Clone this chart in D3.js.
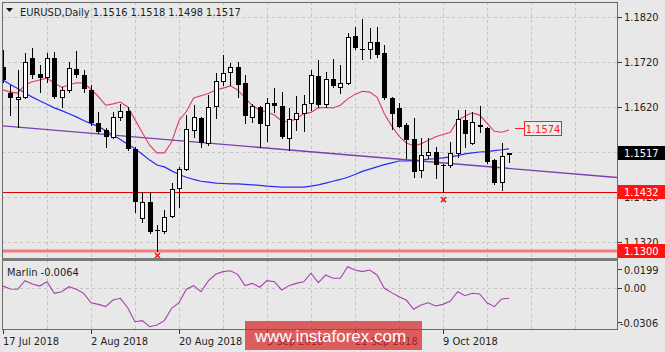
<!DOCTYPE html>
<html lang="en">
<head>
<meta charset="utf-8">
<title>EURUSD Daily</title>
<script src="https://d3js.org/d3.v7.min.js"></script>
<style>
  body { margin: 0; background: #e8e8e8; }
  svg { display: block; }
  text { font-family: "DejaVu Sans Condensed", "DejaVu Sans", sans-serif; font-size: 11px; fill: #1e1e1e; }
</style>
</head>
<body>
<svg width="665" height="352"></svg>
<script>
// bar dates (trading days)
const dates = [
  "2018-07-17","2018-07-18","2018-07-19","2018-07-20","2018-07-23","2018-07-24","2018-07-25","2018-07-26","2018-07-27","2018-07-30","2018-07-31",
  "2018-08-01","2018-08-02","2018-08-03","2018-08-06","2018-08-07","2018-08-08","2018-08-09","2018-08-10","2018-08-13","2018-08-14","2018-08-15",
  "2018-08-16","2018-08-17","2018-08-20","2018-08-21","2018-08-22","2018-08-23","2018-08-24","2018-08-27","2018-08-28","2018-08-29","2018-08-30","2018-08-31",
  "2018-09-03","2018-09-04","2018-09-05","2018-09-06","2018-09-07","2018-09-10","2018-09-11","2018-09-12","2018-09-13","2018-09-14","2018-09-17",
  "2018-09-18","2018-09-19","2018-09-20","2018-09-21","2018-09-24","2018-09-25","2018-09-26","2018-09-27","2018-09-28",
  "2018-10-01","2018-10-02","2018-10-03","2018-10-04","2018-10-05","2018-10-08","2018-10-09","2018-10-10","2018-10-11","2018-10-12",
  "2018-10-15","2018-10-16","2018-10-17","2018-10-18","2018-10-19","2018-10-22"
];

const open = [
  1.1709,1.1651,1.1638,1.1642,1.1729,1.1693,1.1687,1.1729,1.1642,1.1658,1.1704,1.1691,1.1658,1.1584,1.1569,1.1553,1.1598,1.1611,
  1.1527,1.1373,1.1409,1.1346,1.1345,1.1378,1.1440,1.1482,1.1569,1.1596,1.1540,1.1622,1.1678,1.1698,1.1709,1.1673,1.1598,1.1620,
  1.1580,1.1629,1.1622,1.1551,1.1593,1.1607,1.1629,1.1689,1.1627,1.1682,1.1664,1.1673,1.1778,1.1748,1.1749,1.1764,1.1740,1.1640,
  1.1618,1.1580,1.1549,1.1480,1.1513,1.1520,1.1491,1.1491,1.1518,1.1591,1.1540,1.1580,1.1573,1.1502,1.1453,1.1516
];
const high = [
  1.1747,1.1669,1.1702,1.1740,1.1751,1.1713,1.1740,1.1742,1.1664,1.1720,1.1744,1.1702,1.1669,1.1609,1.1573,1.1609,1.1627,1.1620,
  1.1531,1.1431,1.1431,1.1358,1.1391,1.1451,1.1487,1.1602,1.1624,1.1598,1.1647,1.1696,1.1736,1.1718,1.1720,1.1691,1.1627,1.1622,
  1.1640,1.1662,1.1653,1.1618,1.1644,1.1647,1.1702,1.1724,1.1698,1.1727,1.1713,1.1784,1.1798,1.1816,1.1796,1.1798,1.1758,1.1642,
  1.1629,1.1584,1.1596,1.1551,1.1551,1.1531,1.1493,1.1542,1.1613,1.1613,1.1609,1.1622,1.1576,1.1504,1.1540,1.1518
];
const low = [
  1.1676,1.1602,1.1576,1.1640,1.1684,1.1653,1.1676,1.1640,1.1620,1.1653,1.1687,1.1653,1.1580,1.1562,1.1531,1.1551,1.1591,1.1524,
  1.1387,1.1364,1.1340,1.1300,1.1340,1.1376,1.1398,1.1480,1.1553,1.1531,1.1536,1.1596,1.1669,1.1669,1.1642,1.1584,1.1587,1.1531,
  1.1544,1.1609,1.1551,1.1524,1.1569,1.1567,1.1613,1.1620,1.1620,1.1664,1.1651,1.1671,1.1749,1.1727,1.1729,1.1731,1.1638,1.1571,
  1.1576,1.1507,1.1464,1.1464,1.1507,1.1462,1.1432,1.1487,1.1509,1.1531,1.1538,1.1564,1.1496,1.1449,1.1436,1.1498
];
const close = [
  1.1680,1.1640,1.1642,1.1720,1.1691,1.1684,1.1729,1.1642,1.1658,1.1707,1.1691,1.1660,1.1584,1.1564,1.1553,1.1598,1.1611,1.1527,
  1.1409,1.1409,1.1342,1.1345,1.1376,1.1438,1.1482,1.1571,1.1598,1.1540,1.1620,1.1678,1.1696,1.1709,1.1669,1.1600,1.1622,1.1582,
  1.1629,1.1622,1.1553,1.1593,1.1607,1.1627,1.1691,1.1624,1.1682,1.1667,1.1673,1.1776,1.1751,1.1747,1.1764,1.1736,1.1640,1.1604,
  1.1576,1.1547,1.1476,1.1513,1.1520,1.1491,1.1490,1.1518,1.1593,1.1560,1.1587,1.1576,1.1498,1.1451,1.1511,1.1517
];

// moving averages
const maFast = [
  1.1658,1.1653,1.1651,1.1669,1.1676,1.1680,1.1684,1.1673,1.1664,1.1669,1.1674,1.1673,1.1660,1.1643,1.1624,1.1627,1.1631,1.1620,
  1.1592,1.1563,1.1535,1.1518,1.1518,1.1542,1.1590,1.1610,1.1640,1.1645,1.1650,1.1658,1.1662,1.1667,1.1658,1.1640,1.1623,1.1613,
  1.1609,1.1602,1.1589,1.1587,1.1594,1.1605,1.1608,1.1618,1.1619,1.1618,1.1624,1.1638,1.1648,1.1655,1.1653,1.1642,1.1605,1.1578,
  1.1555,1.1540,1.1534,1.1538,1.1546,1.1554,1.1559,1.1564,1.1590,1.1600,1.1607,1.1602,1.1584,1.1566,1.1564,1.1569
];
const maSlow = [
  1.1680,1.1670,1.1661,1.1651,1.1642,1.1634,1.1626,1.1618,1.1612,1.1605,1.1598,1.1590,1.1583,1.1577,1.1567,1.1558,1.1548,1.1537,
  1.1527,1.1515,1.1502,1.1491,1.1487,1.1478,1.1470,1.1464,1.1459,1.1455,1.1453,1.1451,1.1450,1.1449,1.1449,1.1448,1.1447,1.1446,
  1.1444,1.1443,1.1442,1.1442,1.1442,1.1442,1.1444,1.1447,1.1451,1.1455,1.1459,1.1464,1.1470,1.1477,1.1482,1.1487,1.1492,1.1496,
  1.1500,1.1500,1.1501,1.1502,1.1504,1.1505,1.1507,1.1509,1.1512,1.1516,1.1518,1.1520,1.1521,1.1523,1.1525,1.1527
];
const marlin = [
  0.0013,-0.0009,-0.0011,0.0053,0.0028,0.0013,0.0045,-0.0041,-0.0029,0.0008,-0.0011,-0.0041,-0.0111,-0.0123,-0.0140,-0.0091,-0.0078,-0.0148,
  -0.0252,-0.0244,-0.0289,-0.0276,-0.0244,-0.0152,-0.0111,-0.0011,0.0016,-0.0029,0.0051,0.0100,0.0120,0.0127,0.0100,0.0016,0.0033,0.0004,
  0.0053,0.0045,-0.0016,0.0016,0.0033,0.0045,0.0108,0.0038,0.0095,0.0071,0.0071,0.0157,0.0132,0.0120,0.0132,0.0095,-0.0004,-0.0036,
  -0.0066,-0.0091,-0.0160,-0.0128,-0.0111,-0.0135,-0.0123,-0.0098,-0.0029,-0.0059,-0.0041,-0.0046,-0.0111,-0.0140,-0.0083,-0.0078
];

const trendLine = [{i: 0, p: 1.1578}, {i: 84, p: 1.1463}];
const levels = [1.1432, 1.1300];
const fractalLows = [21, 60];
const priceTicks = [1.1820, 1.1720, 1.1620, 1.1420, 1.1320];
const priceGrid = [1.1820, 1.1720, 1.1620, 1.1520, 1.1420, 1.1320];
const lastPrice = 1.1517;
const boxPrice = 1.1574;
const marlinTicks = [0.0199, 0.00, -0.0306];
const dateTickIdx = [0, 12, 24, 36, 48, 60];

const svg = d3.select("svg");
const L = 2, R = 617, mainT = 2, mainB = 258, indT = 260, indB = 329;

const x = d3.scaleLinear().domain([0, 84]).range([3, 619]);
const y = d3.scaleLinear().domain([1.1320, 1.1820]).range([242, 17]);
const yi = d3.scaleLinear().domain([-0.0306, 0.0199]).range([329, 261]);
const parse = d3.timeParse("%Y-%m-%d");
const fmtDate = d3.timeFormat("%-d %b %Y");

const defs = svg.append("defs");
defs.append("clipPath").attr("id", "mainClip").append("rect")
  .attr("x", L + 1).attr("y", mainT + 1).attr("width", R - L - 1).attr("height", mainB - mainT - 1);
defs.append("clipPath").attr("id", "indClip").append("rect")
  .attr("x", L + 1).attr("y", indT + 1).attr("width", R - L - 1).attr("height", indB - indT - 1);

// grid
const grid = svg.append("g").attr("stroke", "#c4c4c4").attr("stroke-dasharray", "3,3").attr("shape-rendering", "crispEdges");
const vIdx = d3.range(6, 84, 6);
grid.selectAll(".vg").data(vIdx).enter().append("line")
  .attr("x1", d => Math.round(x(d)) + 0.5).attr("x2", d => Math.round(x(d)) + 0.5)
  .attr("y1", mainT).attr("y2", mainB);
grid.selectAll(".vg2").data(vIdx).enter().append("line")
  .attr("x1", d => Math.round(x(d)) + 0.5).attr("x2", d => Math.round(x(d)) + 0.5)
  .attr("y1", indT).attr("y2", indB);
grid.selectAll(".hg").data(priceGrid).enter().append("line")
  .attr("x1", L).attr("x2", R)
  .attr("y1", d => Math.round(y(d)) + 0.5).attr("y2", d => Math.round(y(d)) + 0.5);
grid.append("line").attr("x1", L).attr("x2", R)
  .attr("y1", Math.round(yi(0)) + 0.5).attr("y2", Math.round(yi(0)) + 0.5);

const main = svg.append("g").attr("clip-path", "url(#mainClip)");

// horizontal levels
main.append("line").attr("x1", L).attr("x2", R)
  .attr("y1", Math.round(y(levels[0])) + 0.5).attr("y2", Math.round(y(levels[0])) + 0.5)
  .attr("stroke", "#e00000").attr("stroke-width", 1);
main.append("line").attr("x1", L).attr("x2", R)
  .attr("y1", y(levels[1])).attr("y2", y(levels[1]))
  .attr("stroke", "#f27a7a").attr("stroke-width", 3);

// trend line
main.append("line")
  .attr("x1", x(trendLine[0].i)).attr("y1", y(trendLine[0].p))
  .attr("x2", x(trendLine[1].i)).attr("y2", y(trendLine[1].p))
  .attr("stroke", "#7a3fae").attr("stroke-width", 1.3);

// moving averages
const lineFn = d3.line().x((d, i) => x(i)).y(d => y(d));
main.append("path").datum(maSlow).attr("d", lineFn)
  .attr("fill", "none").attr("stroke", "#2a2af5").attr("stroke-width", 1.2);
main.append("path").datum(maFast).attr("d", lineFn)
  .attr("fill", "none").attr("stroke", "#e23a5e").attr("stroke-width", 1.1);

// candles
const bars = d3.range(open.length);
const cg = main.append("g").attr("shape-rendering", "crispEdges");
cg.selectAll(".wick").data(bars).enter().append("line")
  .attr("x1", i => Math.round(x(i)) + 0.5).attr("x2", i => Math.round(x(i)) + 0.5)
  .attr("y1", i => Math.round(y(high[i]))).attr("y2", i => Math.round(y(low[i])) + 1)
  .attr("stroke", "#000");
cg.selectAll(".body").data(bars).enter().append("rect")
  .attr("x", i => close[i] >= open[i] ? Math.round(x(i)) - 1.5 : Math.round(x(i)) - 2)
  .attr("y", i => {
    const t = Math.round(y(Math.max(open[i], close[i])));
    return close[i] >= open[i] ? t + 0.5 : t;
  })
  .attr("width", i => close[i] >= open[i] ? 4 : 5)
  .attr("height", i => {
    const t = Math.round(y(Math.max(open[i], close[i])));
    const b = Math.round(y(Math.min(open[i], close[i])));
    return close[i] >= open[i] ? Math.max(b - t, 0) : Math.max(b - t, 1);
  })
  .attr("fill", i => close[i] >= open[i] ? "#fff" : "#000")
  .attr("stroke", i => close[i] >= open[i] ? "#000" : "none");

// fractal markers
const fx = main.append("g").attr("stroke", "#f02020").attr("stroke-width", 1.6);
fractalLows.forEach(i => {
  const cx = Math.round(x(i)) + 0.5, cy = Math.min(y(low[i]) + 8, 255.5);
  fx.append("line").attr("x1", cx - 2.5).attr("y1", cy - 2.5).attr("x2", cx + 2.5).attr("y2", cy + 2.5);
  fx.append("line").attr("x1", cx - 2.5).attr("y1", cy + 2.5).attr("x2", cx + 2.5).attr("y2", cy - 2.5);
});

// price label box on chart
const by = Math.round(y(boxPrice));
main.append("line").attr("x1", 515).attr("x2", 524).attr("y1", by + 0.5).attr("y2", by + 0.5)
  .attr("stroke", "#ff2020");
main.append("rect").attr("x", 524.5).attr("y", by - 6.5).attr("width", 37).attr("height", 14)
  .attr("fill", "#ececec").attr("stroke", "#ff2020");
main.append("text").attr("x", 543).attr("y", by + 4.5).attr("text-anchor", "middle")
  .style("fill", "#ff1a1a").text(boxPrice.toFixed(4));

// indicator line
svg.append("g").attr("clip-path", "url(#indClip)").append("path").datum(marlin)
  .attr("d", d3.line().x((d, i) => x(i)).y(d => yi(d)))
  .attr("fill", "none").attr("stroke", "#a93fae").attr("stroke-width", 1.1);

// frames
const frame = svg.append("g").attr("fill", "none").attr("stroke", "#6a6a6a").attr("shape-rendering", "crispEdges");
frame.append("rect").attr("x", L + 0.5).attr("y", mainT + 0.5).attr("width", R - L).attr("height", mainB - mainT);
frame.append("rect").attr("x", L + 0.5).attr("y", indT + 0.5).attr("width", R - L).attr("height", indB - indT);
svg.append("rect").attr("x", L).attr("y", mainB).attr("width", R - L + 1).attr("height", indT - mainB + 1)
  .attr("fill", "#7a7a7a");

// right axis ticks and labels
const ax = svg.append("g");
ax.selectAll(".pt").data(priceTicks).enter().append("line")
  .attr("x1", R + 1).attr("x2", R + 5)
  .attr("y1", d => Math.round(y(d)) + 0.5).attr("y2", d => Math.round(y(d)) + 0.5)
  .attr("stroke", "#333");
ax.selectAll(".pl").data(priceTicks).enter().append("text")
  .attr("x", 624).attr("y", d => y(d) + 4).text(d => d.toFixed(4));
ax.selectAll(".mt").data(marlinTicks).enter().append("line")
  .attr("x1", R + 1).attr("x2", R + 5)
  .attr("y1", (d, i) => [269.5, 288.5, 322.5][i]).attr("y2", (d, i) => [269.5, 288.5, 322.5][i])
  .attr("stroke", "#333");
ax.selectAll(".ml").data(marlinTicks).enter().append("text")
  .attr("x", (d, i) => i === 2 ? 620 : 624)
  .attr("y", d => Math.min(Math.max(yi(d), 270), 323) + 4)
  .text(d => d === 0 ? "0.00" : d.toFixed(4));

// level boxes on axis
function axisBox(p, bg) {
  const cy = Math.round(y(p));
  ax.append("rect").attr("x", R + 1).attr("y", cy - 7).attr("width", 665 - R).attr("height", 14).attr("fill", bg);
  ax.append("text").attr("x", 624).attr("y", cy + 4).style("fill", "#fff").text(p.toFixed(4));
}
axisBox(lastPrice, "#000");
axisBox(levels[0], "#ff1414");
axisBox(levels[1], "#ff1414");

// date axis
ax.selectAll(".dt").data(dateTickIdx).enter().append("line")
  .attr("x1", i => Math.round(x(i)) + 0.5).attr("x2", i => Math.round(x(i)) + 0.5)
  .attr("y1", indB + 1).attr("y2", indB + 5).attr("stroke", "#333");
ax.selectAll(".dl").data(dateTickIdx).enter().append("text")
  .attr("x", i => Math.round(x(i))).attr("y", 345)
  .text(i => fmtDate(parse(dates[i])));

// titles
svg.append("path").attr("d", "M6,8 L13,8 L9.5,12 Z").attr("fill", "#111");
svg.append("text").attr("x", 20).attr("y", 16)
  .text(`EURUSD,Daily  ${open[69].toFixed(4)} ${high[69].toFixed(4)} ${low[69].toFixed(4)} ${close[69].toFixed(4)}`);
svg.append("text").attr("x", 7).attr("y", 276).text("Marlin -0.0064");

// watermark
svg.append("rect").attr("x", 245).attr("y", 321).attr("width", 177).attr("height", 29)
  .attr("fill", "rgb(214,40,40)").attr("opacity", 0.72);
svg.append("text").attr("x", 255).attr("y", 342)
  .style("font-family", "'Liberation Sans', Arial, sans-serif").style("font-size", "17px").style("fill", "#fff")
  .text("www.instaforex.com");
</script>
</body>
</html>
